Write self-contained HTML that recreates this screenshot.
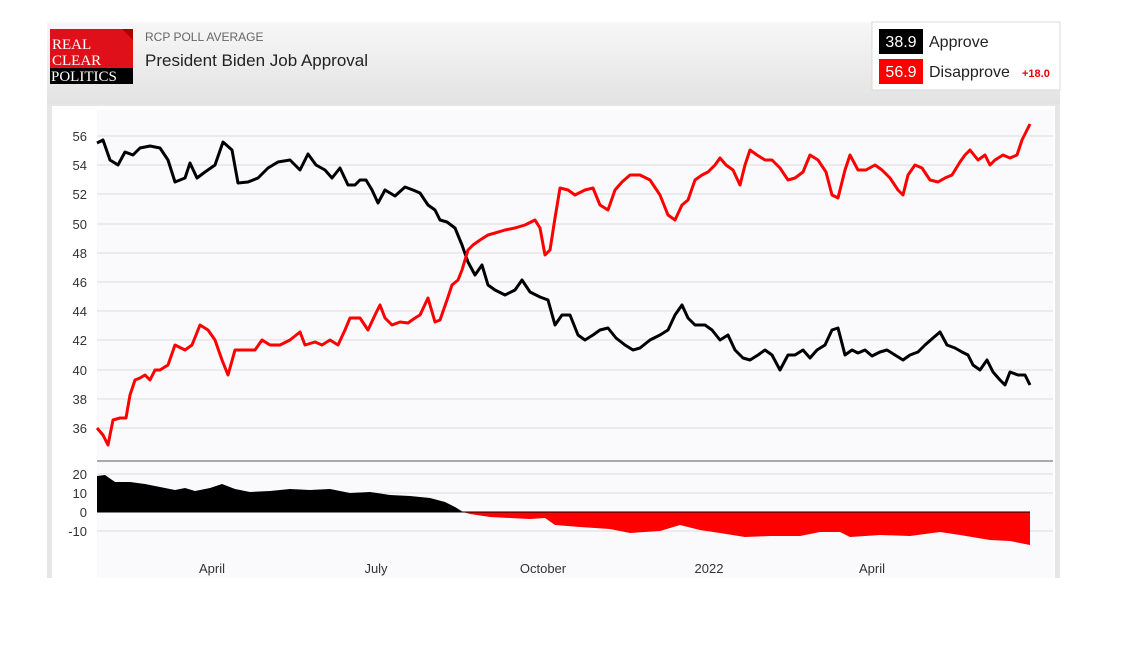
<!DOCTYPE html>
<html><head><meta charset="utf-8"><style>
body{margin:0;background:#fff;width:1136px;height:641px;overflow:hidden;font-family:"Liberation Sans",sans-serif}
</style></head><body>
<svg width="1136" height="641" xmlns="http://www.w3.org/2000/svg" font-family="Liberation Sans, sans-serif">
<defs><linearGradient id="g" x1="0" y1="0" x2="0" y2="1"><stop offset="0" stop-color="#f7f7f7"/><stop offset="1" stop-color="#e2e2e2"/></linearGradient></defs>
<rect x="47" y="22" width="1013" height="84" fill="url(#g)"/>
<rect x="47" y="104" width="1013" height="474" fill="#e6e6e6"/>
<rect x="52" y="106" width="1003" height="472" fill="#fff"/>
<rect x="97" y="110" width="956" height="468" fill="#fafafd"/>
<!-- logo -->
<rect x="50" y="29" width="83" height="42" fill="#e0101a"/>
<polygon points="122,29 133,29 133,40" fill="#a00"/>
<rect x="50" y="68" width="83" height="16" fill="#000"/>
<text x="52" y="49" font-family="Liberation Serif,serif" font-size="15" fill="#fff">REAL</text>
<text x="52" y="65" font-family="Liberation Serif,serif" font-size="15" fill="#fff">CLEAR</text>
<text x="51" y="81" font-family="Liberation Serif,serif" font-size="15" fill="#fff">POLITICS</text>
<text x="145" y="41" font-size="12" fill="#666">RCP POLL AVERAGE</text>
<text x="145" y="66" font-size="17" fill="#222">President Biden Job Approval</text>
<!-- legend -->
<rect x="872" y="22" width="188" height="68" fill="#fff" stroke="#d8d8d8"/>
<rect x="879" y="29" width="44" height="25" fill="#000"/>
<text x="901" y="47" font-size="16" fill="#fff" text-anchor="middle">38.9</text>
<text x="929" y="47" font-size="16" fill="#222">Approve</text>
<rect x="879" y="59" width="44" height="25" fill="#f00"/>
<text x="901" y="77" font-size="16" fill="#fff" text-anchor="middle">56.9</text>
<text x="929" y="77" font-size="16" fill="#222">Disapprove</text>
<text x="1022" y="77" font-size="11" font-weight="bold" fill="#e00">+18.0</text>
<!-- grid -->
<g stroke="#dcdce0" stroke-width="1">
<line x1="97" x2="1053" y1="136" y2="136"/><line x1="97" x2="1053" y1="165" y2="165"/><line x1="97" x2="1053" y1="194" y2="194"/><line x1="97" x2="1053" y1="224" y2="224"/><line x1="97" x2="1053" y1="253" y2="253"/><line x1="97" x2="1053" y1="282" y2="282"/><line x1="97" x2="1053" y1="311" y2="311"/><line x1="97" x2="1053" y1="340" y2="340"/><line x1="97" x2="1053" y1="370" y2="370"/><line x1="97" x2="1053" y1="399" y2="399"/><line x1="97" x2="1053" y1="428" y2="428"/>
<line x1="97" x2="1053" y1="474" y2="474"/><line x1="97" x2="1053" y1="493" y2="493"/><line x1="97" x2="1053" y1="531" y2="531"/>
</g>
<line x1="97" x2="1053" y1="461" y2="461" stroke="#aaa" stroke-width="2"/>
<g font-size="13" fill="#333" text-anchor="end">
<text x="87" y="141">56</text><text x="87" y="170">54</text><text x="87" y="199">52</text><text x="87" y="229">50</text><text x="87" y="258">48</text><text x="87" y="287">46</text><text x="87" y="316">44</text><text x="87" y="345">42</text><text x="87" y="375">40</text><text x="87" y="404">38</text><text x="87" y="433">36</text>
<text x="87" y="479">20</text><text x="87" y="498">10</text><text x="87" y="517">0</text><text x="87" y="536">-10</text>
</g>
<g font-size="13" fill="#333" text-anchor="middle">
<text x="212" y="573">April</text><text x="376" y="573">July</text><text x="543" y="573">October</text><text x="709" y="573">2022</text><text x="872" y="573">April</text>
</g>
<!-- spread -->
<polygon fill="#000" points="97,512 97,476 105,475 115,482 130,482 145,484 160,487 175,490 185,488 195,491 210,488 222,484 235,489 250,492 270,491 290,489 310,490 330,489 350,493 370,492 390,495 410,496 430,498 445,502 455,507 463,512"/>
<polygon fill="#f00" points="463,512 470,514 490,517 510,518 530,519 545,518 555,525 580,527 610,529 630,533 660,531 680,525 700,530 720,533 745,537 770,536 800,536 820,532 840,532 850,537 880,535 910,536 940,532 960,535 990,540 1010,541 1030,545 1030,512"/>
<line x1="97" x2="1030" y1="512" y2="512" stroke="#000" stroke-width="1"/>
<!-- lines -->
<polyline fill="none" stroke="#000" stroke-width="3" stroke-linejoin="round" points="97,143 103,140 110,160 118,165 125,152 133,155 140,148 150,146 160,148 168,160 175,182 185,178 190,163 197,178 205,172 215,165 223,142 232,150 238,183 248,182 258,178 268,168 278,162 290,160 300,170 308,154 316,165 325,170 332,178 340,168 348,185 355,185 360,180 366,180 372,190 378,203 385,190 395,196 405,187 413,190 420,193 428,205 435,210 440,220 447,222 455,228 462,245 468,262 475,275 482,265 488,285 495,290 505,295 515,290 522,280 530,292 540,297 548,300 555,325 562,315 570,315 578,335 585,340 593,335 600,330 608,328 616,338 625,345 633,350 640,348 650,340 660,335 668,330 675,315 682,305 688,318 695,325 705,325 712,330 720,340 728,335 735,350 743,358 750,360 758,355 765,350 772,355 780,370 788,355 795,355 803,350 810,358 817,350 825,345 832,330 838,328 845,355 852,350 858,353 865,350 872,356 880,352 887,350 895,355 903,360 910,355 918,352 925,345 933,338 940,332 947,345 955,348 962,352 968,355 973,365 980,370 987,360 993,372 1000,380 1005,385 1010,372 1018,375 1025,375 1030,385"/>
<polyline fill="none" stroke="#f00" stroke-width="3" stroke-linejoin="round" points="97,428 103,435 108,445 113,420 120,418 126,418 130,395 135,380 140,378 145,375 150,380 155,370 160,370 168,365 175,345 185,350 192,345 200,325 208,330 215,340 222,360 228,375 235,350 245,350 255,350 262,340 270,345 280,345 290,340 300,332 305,345 315,342 322,345 330,340 338,345 345,330 350,318 360,318 368,330 375,315 380,305 385,318 392,325 400,322 408,323 415,318 420,315 428,298 435,322 440,320 447,300 452,285 458,280 462,270 468,250 473,245 480,240 488,235 495,233 505,230 515,228 525,225 535,220 540,228 545,255 550,250 555,218 560,188 568,190 575,195 585,190 593,188 600,205 608,210 615,190 622,182 630,175 640,175 650,180 660,195 668,215 675,220 682,205 688,200 695,180 702,175 708,172 715,165 720,158 726,165 733,170 740,185 745,165 750,150 757,155 765,160 772,160 780,168 788,180 795,178 803,172 810,155 818,160 826,172 832,195 838,198 845,170 850,155 858,170 866,170 875,165 882,170 890,178 898,190 903,195 908,175 915,165 922,168 930,180 938,182 945,178 952,175 960,162 965,155 970,150 978,160 985,155 990,165 995,160 1003,155 1010,158 1017,155 1022,140 1027,130 1030,124"/>
</svg>
</body></html>
